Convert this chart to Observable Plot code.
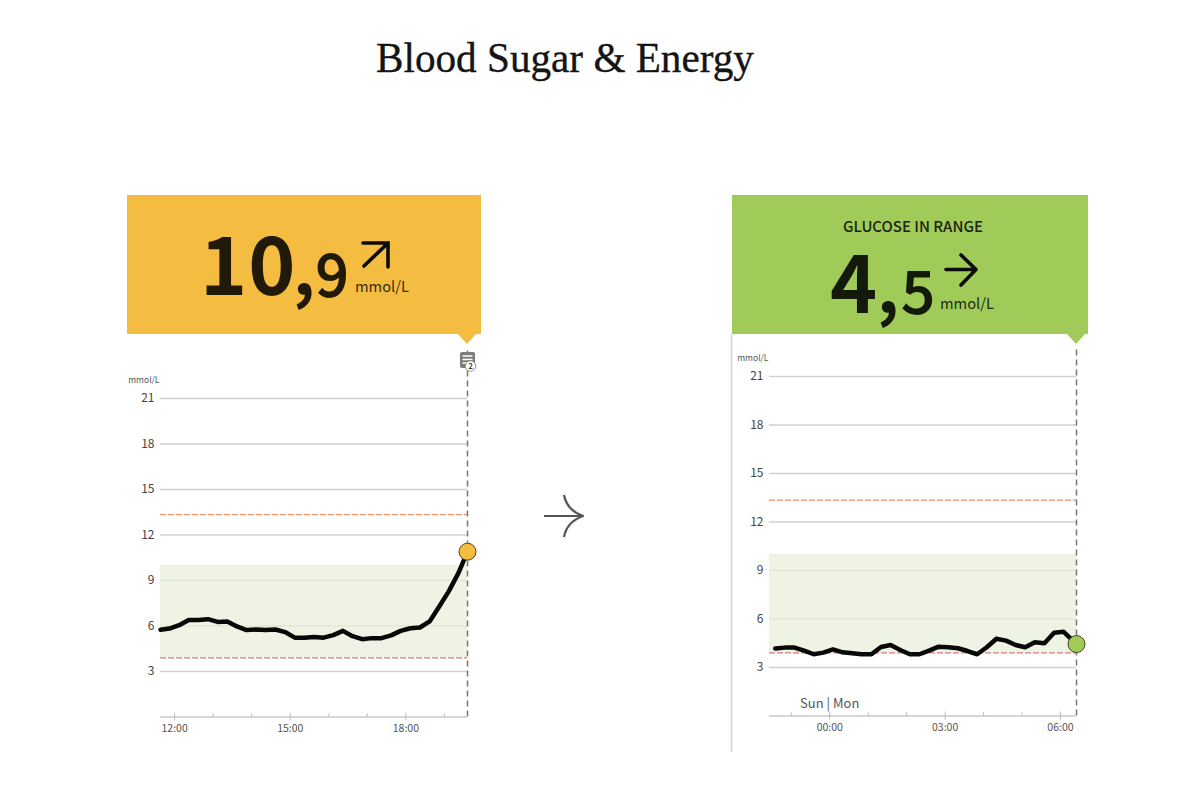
<!DOCTYPE html>
<html><head><meta charset="utf-8">
<script src="https://cdn.jsdelivr.net/npm/d3@7"></script>
<script src="https://cdn.jsdelivr.net/npm/@observablehq/plot@0.6"></script>
<style>
html,body{margin:0;padding:0;background:#fff;width:1200px;height:809px;overflow:hidden}
#stage{position:relative;width:1200px;height:809px}
#stage>.chart{position:absolute}
#stage svg{overflow:visible;background:transparent}
#title{position:absolute;left:376px;top:33px;font:41.2px/50px "Liberation Serif",serif;color:#151515;white-space:nowrap;-webkit-text-stroke:0.35px #151515}
#overlay{position:absolute;left:0;top:0;pointer-events:none}
#overlay text{font-family:"Noto Sans CJK JP","Noto Sans",sans-serif}
</style></head><body>
<div id="stage">
<div id="title">Blood Sugar &amp; Energy</div>
<div class="chart" id="left" style="left:127px;top:340px"></div>
<div class="chart" id="right" style="left:732px;top:340px"></div>
<svg id="overlay" width="1200" height="809" viewBox="0 0 1200 809">
  <line x1="731.5" x2="731.5" y1="334" y2="752" stroke="#d4d4d4" stroke-width="1.5"/>
  <polygon fill="#f4bc40" points="127,195 481,195 481,334 476,334 467,344 458,334 127,334"/>
  <polygon fill="#a0cb58" points="732,195 1088,195 1088,334 1085,334 1076,344 1067,334 732,334"/>
  <!-- left banner -->
  <text x="200" y="295" font-size="80" font-weight="700" fill="#221a08" letter-spacing="1">10</text>
  <text x="293" y="295" font-size="68" font-weight="700" fill="#221a08">,</text>
  <text x="316" y="296" font-size="58" font-weight="400" fill="#221a08" stroke="#221a08" stroke-width="2">9</text>
  <text x="355" y="292" font-size="14.7" fill="#3a2f12">mmol/L</text>
  <path d="M364,266 L388,243 M363,243 L388,243 L388,267" fill="none" stroke="#0b0b0b" stroke-width="3.6" stroke-linecap="round"/>
  <!-- right banner -->
  <text x="913" y="232" font-size="15" font-weight="500" text-anchor="middle" fill="#1c2410">GLUCOSE IN RANGE</text>
  <text x="830" y="313" font-size="80" font-weight="700" fill="#141a0a">4</text>
  <text x="877" y="313" font-size="68" font-weight="700" fill="#141a0a">,</text>
  <text x="902" y="313" font-size="58" font-weight="400" fill="#141a0a" stroke="#141a0a" stroke-width="2">5</text>
  <text x="940" y="309" font-size="14.7" fill="#222c14">mmol/L</text>
  <path d="M946,269.5 L976,269.5 M961,255 L976,269.5 L961,285" fill="none" stroke="#0b0b0b" stroke-width="3.6" stroke-linecap="round" stroke-linejoin="round"/>
  <!-- note icon -->
  <rect x="460" y="352" width="15" height="16" rx="2" fill="#7c7c7c"/>
  <path d="M462.5,356 H472.5 M462.5,359.5 H472.5 M462.5,363 H468" stroke="#fff" stroke-width="1.3"/>
  <circle cx="470.5" cy="366" r="5.3" fill="#fff" stroke="#777" stroke-width="0.8"/>
  <text x="470.5" y="369" font-size="8" font-weight="700" text-anchor="middle" fill="#444">2</text>
  <!-- centre arrow -->
  <path d="M544,516 H583 M564,495 C566,506 572,512 583,516 C572,520 566,526 564,537" fill="none" stroke="#555" stroke-width="2.2" stroke-linejoin="round"/>
</svg>
</div>
<script>
const yTicks = [3, 6, 9, 12, 15, 18, 21];
const rangeBand = [3.9, 10];
const highLine = 13.35;
const lowLine = 3.9;

const leftTimes = ["11:38","11:52","12:07","12:22","12:37","12:52","13:07","13:22","13:37","13:52","14:07","14:22","14:37","14:52","15:07","15:22","15:37","15:52","16:07","16:22","16:37","16:52","17:07","17:22","17:37","17:52","18:07","18:22","18:37","18:52","19:07","19:22","19:36"];
const leftValues = [5.75,5.83,6.05,6.40,6.40,6.45,6.27,6.30,5.97,5.73,5.77,5.73,5.77,5.60,5.23,5.23,5.27,5.23,5.40,5.68,5.33,5.13,5.20,5.20,5.38,5.68,5.85,5.90,6.30,7.28,8.30,9.50,10.90];
const leftDomain = ["11:38","19:36"];
const leftMajor = ["12:00","15:00","18:00"];
const leftMinor = ["13:00","14:00","16:00","17:00","19:00"];

const rightTimes = ["22:35","22:50","23:05","23:20","23:35","23:50","00:05","00:20","00:35","00:50","01:05","01:20","01:35","01:50","02:05","02:20","02:35","02:50","03:05","03:20","03:35","03:50","04:05","04:20","04:35","04:50","05:05","05:20","05:35","05:50","06:05","06:25"];
const rightValues = [4.17,4.23,4.23,4.04,3.82,3.92,4.12,3.94,3.88,3.82,3.82,4.27,4.39,4.08,3.82,3.82,4.04,4.29,4.25,4.19,4.02,3.82,4.25,4.78,4.66,4.39,4.25,4.56,4.50,5.15,5.21,4.45];
const rightDomain = ["22:26","06:25"];
const rightMajor = ["00:00","03:00","06:00"];
const rightMinor = ["23:00","01:00","02:00","04:00","05:00"];

const font = '"Noto Sans CJK JP","Noto Sans",sans-serif';
const fmt = d3.timeFormat("%H:%M");
// times from noon onward on the right chart belong to the evening before
const parseL = s => new Date(`2024-01-08T${s}:00`);
const parseR = s => new Date(`${+s.slice(0,2) >= 12 ? "2024-01-07" : "2024-01-08"}T${s}:00`);

function chart({times, values, domain, major, minor, parse, width, marginLeft, marginRight, marginTop, marginBottom, color, topValue, unitValue, extra}) {
  const data = times.map((t, i) => ({t: parse(t), v: values[i]}));
  const last = data[data.length - 1];
  const [x0, x1] = domain.map(parse);
  return Plot.plot({
    width, height: 415, marginLeft, marginRight, marginTop, marginBottom,
    style: {fontFamily: font, background: "transparent", overflow: "visible"},
    x: {type: "time", domain: [x0, x1], label: null},
    y: {domain: [0, 21], label: null},
    marks: [
      Plot.ruleY(yTicks, {stroke: "#d0d2ce", strokeWidth: 1.4}),
      Plot.rectY([0], {x1: x0, x2: x1, y1: rangeBand[0], y2: rangeBand[1], fill: "#e7eed8", fillOpacity: 0.7}),
      Plot.ruleY([0], {stroke: "#c8c8c8", strokeWidth: 1.3}),
      Plot.ruleY([highLine], {stroke: "#e2976a", strokeWidth: 1.2, strokeDasharray: "6 2"}),
      Plot.ruleY([lowLine], {stroke: "#d97b76", strokeWidth: 1.2, strokeDasharray: "6 2"}),
      Plot.ruleX([x1], {y1: 0, y2: topValue, stroke: "#777", strokeWidth: 1.5, strokeDasharray: "6 4"}),
      Plot.ruleX(major.map(parse), {y1: -0.25, y2: 0.25, stroke: "#bbb"}),
      Plot.ruleX(minor.map(parse), {y1: 0, y2: 0.2, stroke: "#bbb"}),
      Plot.axisY(yTicks, {anchor: "left", tickSize: 0, tickPadding: 6, fontSize: 12, fill: "#444", label: null}),
      Plot.axisX(major.map(parse), {anchor: "bottom", tickSize: 0, tickPadding: 8, fontSize: 10.5, fill: "#555", tickFormat: fmt, label: null}),
      Plot.text(["mmol/L"], {x: x0, y: unitValue, textAnchor: "end", dx: -1, fontSize: 8.5, fill: "#555"}),
      ...(extra ? extra(parse) : []),
      Plot.line(data, {x: "t", y: "v", stroke: "#080808", strokeWidth: 4.5, strokeLinejoin: "round"}),
      Plot.dot([last], {x: "t", y: "v", r: 8.5, fill: color, stroke: "#4a4420", strokeWidth: 1})
    ]
  });
}

document.getElementById("left").append(chart({
  times: leftTimes, values: leftValues, domain: leftDomain, major: leftMajor, minor: leftMinor, parse: parseL,
  width: 354, marginLeft: 33, marginRight: 14, marginTop: 58, marginBottom: 38.5,
  color: "#f4bc40", topValue: 24.4, unitValue: 22.2
}));
document.getElementById("right").append(chart({
  times: rightTimes, values: rightValues, domain: rightDomain, major: rightMajor, minor: rightMinor, parse: parseR,
  width: 356, marginLeft: 37, marginRight: 12, marginTop: 36, marginBottom: 39.5,
  color: "#a0cb58", topValue: 22.9, unitValue: 22.1,
  extra: p => [Plot.text(["Sun | Mon"], {x: p("00:00"), y: 0.77, fontSize: 13, fill: "#555"})]
}));
</script>
</body></html>
